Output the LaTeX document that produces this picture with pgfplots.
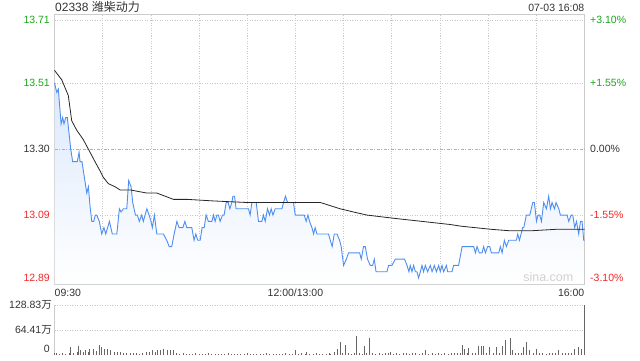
\documentclass[border=0pt]{standalone}
\usepackage{pgfplots}
\pgfplotsset{compat=1.18}
\usepackage{pgfplotstable}
\usepackage{fontspec}
\setmainfont{Liberation Sans}
\newfontfamily\cjk{Noto Sans CJK SC}
\definecolor{gup}{RGB}{26,168,26}
\definecolor{gdn}{RGB}{240,40,40}
\definecolor{bline}{RGB}{78,142,240}
\definecolor{frm}{RGB}{204,204,204}
\definecolor{txt}{RGB}{51,51,51}
\definecolor{grd}{RGB}{200,200,200}
\definecolor{org}{RGB}{238,160,110}

\pgfplotstableread{
t p
0 13.51
1.4 13.48
2.4 13.49
4.1 13.38
5.1 13.40
5.9 13.38
7.0 13.40
8.0 13.40
10.1 13.30
11.3 13.26
14.2 13.26
15.3 13.29
15.9 13.26
17.1 13.26
18.6 13.21
20.1 13.16
21.1 13.18
22.1 13.12
23.2 13.07
24.4 13.07
25.4 13.09
26.3 13.09
27.9 13.07
29.4 13.03
30.8 13.05
31.9 13.03
34.2 13.07
36.0 13.03
38.8 13.03
40.4 13.11
41.4 13.10
42.9 13.11
45.0 13.11
46.2 13.20
47.7 13.18
48.7 13.13
50.4 13.09
51.6 13.09
52.8 13.07
54.3 13.09
55.3 13.07
57.5 13.11
58.9 13.09
60.1 13.07
60.9 13.05
62.2 13.09
63.7 13.03
67.8 13.03
69.9 13.01
71.4 12.99
73.0 12.99
74.5 13.03
76.2 13.07
77.6 13.05
79.9 13.05
81.2 13.07
82.4 13.05
85.5 13.05
86.9 13.01
88.0 13.03
89.2 13.01
90.7 13.01
91.9 13.05
93.2 13.05
94.4 13.09
95.8 13.07
98.0 13.07
99.0 13.09
100.0 13.07
101.1 13.09
102.1 13.09
103.1 13.07
104.6 13.09
105.6 13.09
106.9 13.13
108.1 13.13
109.2 13.11
110.4 13.13
111.1 13.15
112.1 13.15
113.1 13.11
120.8 13.11
121.8 13.09
122.9 13.13
125.6 13.13
127.0 13.07
129.1 13.07
130.1 13.09
131.2 13.07
132.6 13.11
133.9 13.09
134.9 13.11
136.0 13.09
137.4 13.11
141.6 13.11
142.6 13.13
143.8 13.15
145.1 13.13
148.8 13.13
149.9 13.09
155.5 13.09
156.7 13.07
157.8 13.09
158.8 13.07
160.3 13.05
161.3 13.03
162.3 13.05
163.4 13.03
170.6 13.03
171.7 13.01
172.9 12.99
174.2 13.03
175.9 13.03
177.5 13.01
178.5 12.99
180.0 12.93
181.7 12.95
183.1 12.97
190.0 12.97
191.0 12.95
192.4 12.99
193.5 12.99
194.9 12.95
196.6 12.93
198.1 12.93
199.1 12.95
200.2 12.91
207.0 12.91
208.0 12.93
210.1 12.93
212.2 12.95
218.0 12.95
219.5 12.93
220.7 12.91
221.5 12.93
222.6 12.91
223.6 12.93
224.7 12.91
225.7 12.91
226.7 12.89
227.8 12.91
228.8 12.93
229.8 12.91
230.9 12.93
232.3 12.91
234.0 12.93
235.1 12.91
236.5 12.93
237.8 12.91
239.2 12.93
240.2 12.91
241.3 12.93
242.3 12.91
244.0 12.93
244.8 12.91
247.5 12.91
248.5 12.93
251.6 12.93
253.8 12.99
261.0 12.99
262.1 12.97
263.1 12.99
264.5 12.97
266.2 12.97
267.2 12.99
268.3 12.97
269.7 12.99
271.0 12.99
272.0 12.97
276.6 12.97
277.6 12.99
278.7 12.97
280.1 13.01
281.4 12.99
282.8 13.01
287.6 13.01
288.4 13.03
289.5 13.01
290.5 13.03
291.5 13.05
292.2 13.05
293.8 13.09
295.9 13.09
297.8 13.13
298.8 13.13
300.1 13.07
301.1 13.09
302.1 13.09
303.2 13.07
304.6 13.13
306.3 13.11
307.7 13.15
308.8 13.11
309.8 13.13
311.3 13.11
312.3 13.13
314.0 13.11
315.0 13.09
319.2 13.09
320.2 13.07
321.7 13.09
322.7 13.09
323.9 13.05
325.0 13.07
326.4 13.03
327.5 13.07
328.5 13.07
329.5 13.01
330 13.01
}\price

\pgfplotstableread{
t p
0 13.55
4.5 13.52
8.6 13.47
10.7 13.39
13.8 13.36
17.9 13.33
22.1 13.29
25.2 13.26
28.4 13.23
30.4 13.21
33.5 13.19
37.7 13.18
40.8 13.17
47.1 13.17
57.5 13.16
63.7 13.16
68.9 13.15
74.0 13.14
82.4 13.14
98.8 13.135
119.8 13.13
140.5 13.13
165.5 13.13
171.7 13.12
177.9 13.11
186.0 13.10
194.6 13.09
211.0 13.08
246.5 13.06
252.7 13.055
271.4 13.045
283.9 13.04
296.3 13.04
313.0 13.045
330 13.045
}\avg

\pgfplotstableread{
t v
0 6
1 4
3 3
5 5
7 3
9 6
10 21
12 5
14 8
15 24
16 13
18 8
19 13
21 9
22 16
24 16
26 10
28 26
29 21
31 16
33 16
35 13
37 8
39 8
41 8
43 5
45 4
47 6
49 4
51 5
53 3
55 5
57 8
59 8
61 13
63 8
64 13
66 13
68 16
70 13
72 13
74 13
76 4
78 3
80 4
82 2
84 3
86 2
88 4
90 3
92 2
94 3
96 4
98 2
100 3
102 2
104 3
106 2
108 4
110 3
112 2
114 3
116 2
118 3
120 4
122 2
124 3
126 2
128 3
130 2
132 4
134 3
136 2
138 3
140 2
142 3
144 4
146 2
148 3
150 13
152 3
154 4
156 2
157 8
159 3
161 2
163 4
165 3
167 2
169 3
171 4
172 3
174 8
176 16
178 34
179 6
181 26
183 5
185 3
187 4
188 50
190 5
192 3
193 24
194 5
196 45
198 4
200 3
202 4
204 3
206 5
208 4
209 8
211 3
213 4
215 3
217 5
219 4
221 3
223 4
225 5
227 3
229 4
231 13
233 3
235 4
237 3
239 5
241 3
243 4
245 3
247 4
249 5
251 6
253 4
254 26
255 16
257 5
258 18
260 4
262 6
264 24
266 24
267 24
269 5
271 21
273 4
275 21
277 5
279 24
281 39
284 45
285 13
287 4
289 5
291 6
292 21
294 34
296 13
298 5
300 16
302 4
304 6
306 3
308 5
310 4
312 6
314 13
316 5
318 4
320 6
322 5
324 16
326 21
328 16
330 128.83
}\vol

\begin{document}
\begin{tikzpicture}
\path[use as bounding box] (0pt,0pt) rectangle (640pt,360pt);
\begin{axis}[
  at={(54.5pt,76pt)}, anchor=south west, scale only axis,
  width=530pt, height=270pt,
  xmin=0, xmax=330, ymin=12.871, ymax=13.729,
  axis line style={frm},
  xtick={30,60,90,120,150,180,210,240,270,300},
  ytick={12.89,13.09,13.51,13.71},
  xticklabels={}, yticklabels={},
  major tick length=0pt,
  grid=major,
  grid style={grd, dash pattern=on 1pt off 1.5pt, line width=0.6pt},
  clip=false,
  font=\fontsize{10.5}{12}\selectfont,
]
\addplot[draw=none, top color=bline!20, bottom color=white]
  table[x=t,y=p] {\price} -- (axis cs:330,12.871) -- (axis cs:0,12.871) -- cycle;
\draw[org, dash pattern=on 3pt off 1.5pt on 1pt off 1.5pt, line width=0.6pt] (axis cs:0,13.30) -- (axis cs:330,13.30);
\addplot[bline, line width=0.9pt, mark=none] table[x=t,y=p] {\price};
\addplot[black!85, line width=0.8pt, mark=none] table[x=t,y=p] {\avg};
% left labels
\node[anchor=east, text=gup, inner sep=0pt] at ([xshift=-4.5pt]axis cs:0,13.71) {13.71};
\node[anchor=east, text=gup, inner sep=0pt] at ([xshift=-4.5pt]axis cs:0,13.51) {13.51};
\node[anchor=east, text=txt, inner sep=0pt] at ([xshift=-4.5pt]axis cs:0,13.30) {13.30};
\node[anchor=east, text=gdn, inner sep=0pt] at ([xshift=-4.5pt]axis cs:0,13.09) {13.09};
\node[anchor=east, text=gdn, inner sep=0pt] at ([xshift=-4.5pt]axis cs:0,12.89) {12.89};
% right labels
\node[anchor=west, text=gup, inner sep=0pt] at ([xshift=5.5pt]axis cs:330,13.71) {+3.10\%};
\node[anchor=west, text=gup, inner sep=0pt] at ([xshift=5.5pt]axis cs:330,13.51) {+1.55\%};
\node[anchor=west, text=txt, inner sep=0pt] at ([xshift=5.5pt]axis cs:330,13.30) {0.00\%};
\node[anchor=west, text=gdn, inner sep=0pt] at ([xshift=5.5pt]axis cs:330,13.09) {-1.55\%};
\node[anchor=west, text=gdn, inner sep=0pt] at ([xshift=5.5pt]axis cs:330,12.89) {-3.10\%};
% x labels
\node[anchor=base west, text=txt, inner sep=0pt] at ([yshift=-12pt]axis cs:0,12.871) {09:30};
\node[anchor=base, text=txt, inner sep=0pt] at ([yshift=-12pt]axis cs:150,12.871) {12:00/13:00};
\node[anchor=base east, text=txt, inner sep=0pt] at ([yshift=-12pt]axis cs:330,12.871) {16:00};
% title
\node[anchor=base west, text=txt, inner sep=0pt, font=\fontsize{12}{14}\selectfont] at ([xshift=0.5pt,yshift=2.5pt]axis cs:0,13.729) {02338 {\cjk 潍柴动力}};
\node[anchor=base east, text=txt, inner sep=0pt] at ([yshift=2.5pt]axis cs:330,13.729) {07-03 16:08};
\node[anchor=base east, text=black!18, inner sep=0pt, font=\fontsize{12.5}{14}\selectfont] at ([xshift=-11pt,yshift=2.5pt]axis cs:330,12.871) {sina.com};
\end{axis}

\begin{axis}[
  at={(54.5pt,5pt)}, anchor=south west, scale only axis,
  width=530pt, height=50pt,
  xmin=0, xmax=330, ymin=0, ymax=128.83,
  axis line style={draw=none},
  xtick=\empty,
  ytick={64.41,128.83},
  yticklabels={}, major tick length=0pt,
  ymajorgrids,
  grid style={grd, dash pattern=on 1pt off 1.5pt, line width=0.6pt},
  clip=false,
  font=\fontsize{10.5}{12}\selectfont,
]
\draw[frm, line width=0.6pt] (rel axis cs:0,0) -- (rel axis cs:0,1);
\addplot[ycomb, black!60, line width=0.8pt, mark=none] table[x=t,y=v] {\vol};
\node[anchor=east, text=txt, inner sep=0pt] at ([xshift=-2.5pt]axis cs:0,128.83) {128.83{\cjk 万}};
\node[anchor=east, text=txt, inner sep=0pt] at ([xshift=-2.5pt]axis cs:0,64.41) {64.41{\cjk 万}};
\node[anchor=east, text=txt, inner sep=0pt] at ([xshift=-4.5pt,yshift=6pt]axis cs:0,0) {0};
\end{axis}
\end{tikzpicture}
\end{document}
